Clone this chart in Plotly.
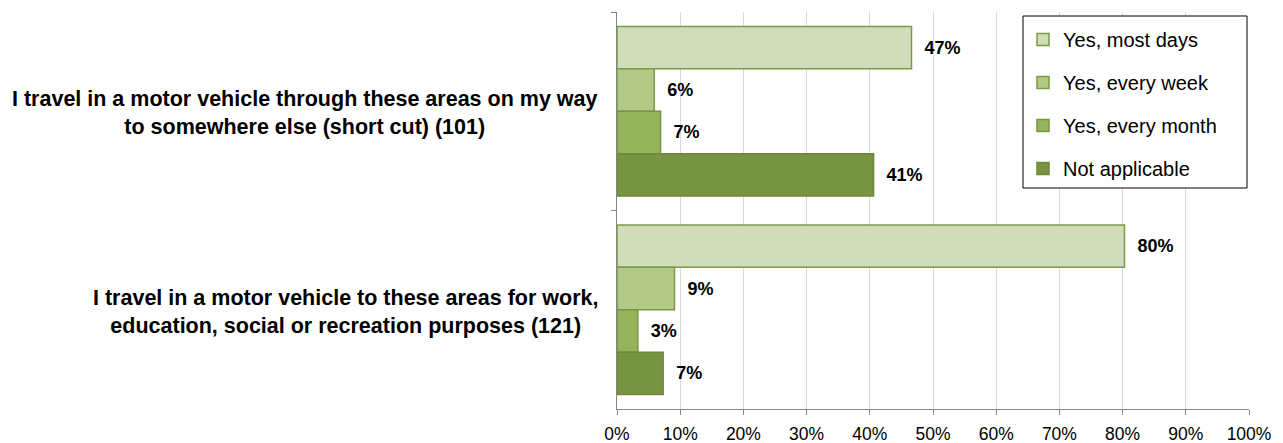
import plotly.graph_objects as go

# Survey statements (each split into its two display lines)
statement_lines = [
    ["I travel in a motor vehicle through these areas on my way",
     "to somewhere else (short cut) (101)"],
    ["I travel in a motor vehicle to these areas for work,",
     "education, social or recreation purposes (121)"],
]
categories = ["<br>".join(lines) for lines in statement_lines]

# Response shares (%) per statement
series_names = ["Yes, most days", "Yes, every week", "Yes, every month", "Not applicable"]
most_days = [46.6, 80.3]
every_week = [5.9, 9.1]
every_month = [6.9, 3.3]
not_applicable = [40.6, 7.3]

x_tick_values = [0, 10, 20, 30, 40, 50, 60, 70, 80, 90, 100]
x_tick_labels = [f"{v}%" for v in x_tick_values]

series_values = [most_days, every_week, every_month, not_applicable]
fill_colors = ["#D0DDBA", "#B2C886", "#95B359", "#789342"]
edge_colors = ["#7A9A46", "#7A9A46", "#779641", "#6C8838"]

FONT = "Liberation Sans, Arial, sans-serif"
W, H = 1283, 443
M_L, M_R, M_T, M_B = 617, 34, 12, 34
plot_w = W - M_L - M_R
plot_h = H - M_T - M_B


def px_x(px):
    return (px - M_L) / plot_w


def px_y(py):
    return (H - M_B - py) / plot_h


fig = go.Figure()
for name, vals, fc, ec in zip(series_names, series_values, fill_colors, edge_colors):
    fig.add_trace(go.Bar(
        name=name,
        y=categories,
        x=vals,
        orientation="h",
        marker=dict(color=fc, line=dict(color=ec, width=1.5)),
        texttemplate="\u00a0\u00a0%{x:.0f}%",
        textposition="outside",
        textfont=dict(family=FONT, size=18, color="#000000", weight="bold"),
        constraintext="none",
        cliponaxis=False,
        legendgroup=name,
        hoverinfo="skip",
    ))

# Statement labels, centred line by line and right-aligned to the axis
for cat in categories:
    fig.add_annotation(
        x=0, xref="paper", xanchor="right", xshift=-17,
        y=cat, yref="y", yanchor="middle", yshift=-2,
        text=cat, align="center", showarrow=False,
        font=dict(family=FONT, size=21.5, color="#000000", weight="bold"),
    )

# Legend frame
fig.add_shape(
    type="rect", xref="paper", yref="paper",
    x0=px_x(1023), x1=px_x(1247), y0=px_y(188), y1=px_y(16),
    fillcolor="#FFFFFF", line=dict(color="#000000", width=1), layer="above",
)

fig.update_layout(
    width=W, height=H,
    margin=dict(l=M_L, r=M_R, t=M_T, b=M_B, autoexpand=False),
    paper_bgcolor="#FFFFFF", plot_bgcolor="#FFFFFF",
    barmode="group", bargap=0.145, bargroupgap=0,
    font=dict(family=FONT, color="#000000"),
    showlegend=True,
    legend=dict(
        x=px_x(1023), xanchor="left", y=px_y(20), yanchor="top",
        bgcolor="rgba(0,0,0,0)", borderwidth=0,
        font=dict(family=FONT, size=20, color="#000000"),
        traceorder="grouped", tracegroupgap=14,
    ),
    xaxis=dict(
        range=[0, 100], tickmode="array",
        tickvals=x_tick_values, ticktext=x_tick_labels,
        showgrid=True, gridcolor="#D9D9D9", gridwidth=1,
        showline=True, linecolor="#868686", linewidth=1,
        ticks="outside", ticklen=5, tickcolor="#868686",
        tickfont=dict(family=FONT, size=17.5, color="#000000"),
        ticklabelstandoff=4, zeroline=False, fixedrange=True,
        automargin=False,
    ),
    yaxis=dict(
        autorange="reversed", type="category",
        showticklabels=False, showgrid=False, zeroline=False,
        showline=True, linecolor="#868686", linewidth=1,
        ticks="outside", ticklen=5, tickcolor="#868686",
        tickson="boundaries", fixedrange=True, automargin=False,
    ),
)

fig.write_html("out.html")
